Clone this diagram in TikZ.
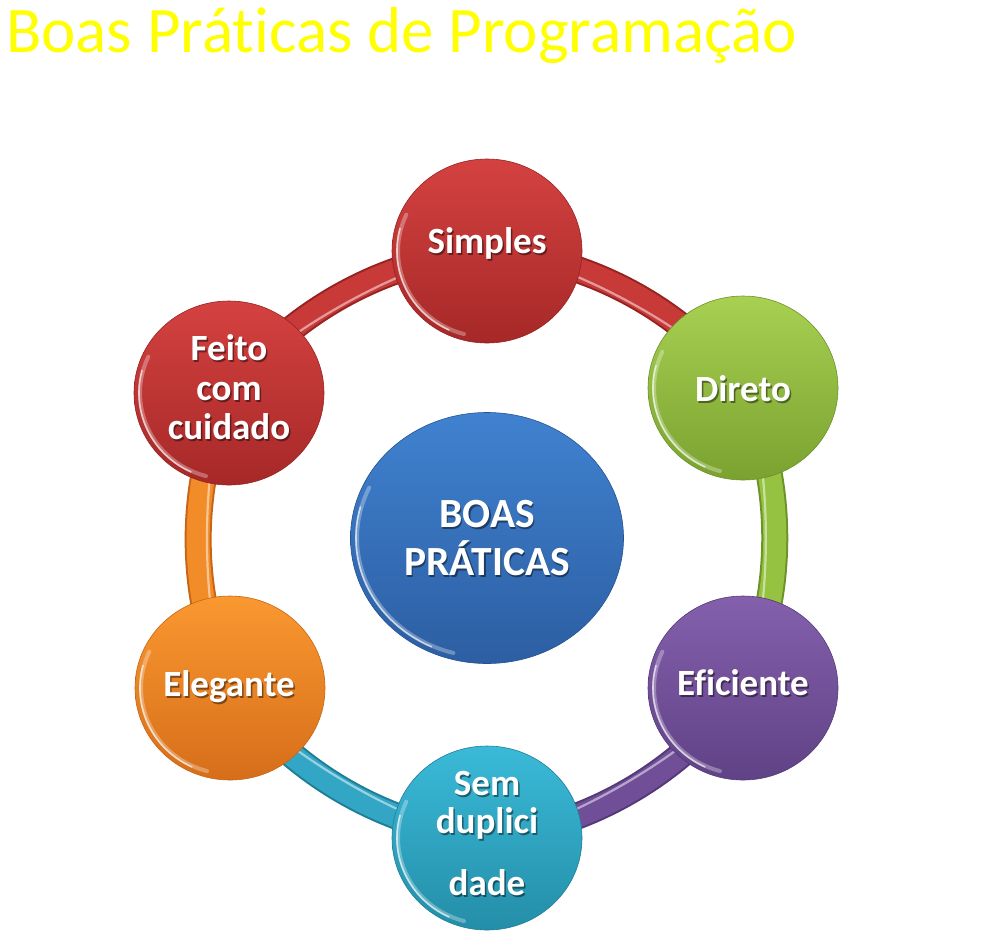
\documentclass[tikz,border=0pt]{standalone}
\usepackage{fontspec}
\setmainfont{Carlito}[Ligatures=NoCommon]
\usetikzlibrary{shapes.geometric}
\pgfdeclarelayer{bg}
\pgfsetlayers{bg,main}
\definecolor{titleY}{RGB}{255,255,0}
\definecolor{redT}{RGB}{212,66,64}\definecolor{redB}{RGB}{166,40,40}\definecolor{redD}{RGB}{150,34,34}\definecolor{redM}{RGB}{200,58,56}
\definecolor{greenT}{RGB}{168,208,82}\definecolor{greenB}{RGB}{122,162,48}\definecolor{greenD}{RGB}{108,146,40}\definecolor{greenM}{RGB}{150,194,66}
\definecolor{purpleT}{RGB}{132,96,172}\definecolor{purpleB}{RGB}{96,66,134}\definecolor{purpleD}{RGB}{84,56,120}\definecolor{purpleM}{RGB}{112,78,152}
\definecolor{cyanT}{RGB}{58,186,216}\definecolor{cyanB}{RGB}{36,142,168}\definecolor{cyanD}{RGB}{30,126,150}\definecolor{cyanM}{RGB}{50,166,196}
\definecolor{orangeT}{RGB}{250,152,48}\definecolor{orangeB}{RGB}{214,110,26}\definecolor{orangeD}{RGB}{200,100,22}\definecolor{orangeM}{RGB}{242,140,40}
\definecolor{blueT}{RGB}{64,130,208}\definecolor{blueB}{RGB}{44,94,162}\definecolor{blueD}{RGB}{36,82,146}
\newcommand\shtxt[5]{%
  \node[#2, text=black, opacity=.45] (#1s) at (#3+1.5,#4+2) {#5};
  \node[#2, text=white] (#1) at (#3,#4) {#5};}
\newcommand\rim[3]{% node, rx, ry
  \draw[white, opacity=.30, line width=4pt, line cap=round] (#1.center) ++(105:#2-6 and #3-6) arc[start angle=105, end angle=205, x radius=#2-6, y radius=#3-6];
  \draw[white, opacity=.65, line width=1.6pt, line cap=round] (#1.center) ++(115:#2-5 and #3-5) arc[start angle=115, end angle=195, x radius=#2-5, y radius=#3-5];}
\begin{document}
\begin{tikzpicture}[x=1pt,y=-1pt,
  disc/.style={ellipse, inner sep=0pt, minimum width=190pt, minimum height=184pt,
     draw=#1D, line width=0.6pt, top color=#1T, bottom color=#1B},
  bigdisc/.style={ellipse, inner sep=0pt, minimum width=273pt, minimum height=251pt,
     draw=#1D, line width=0.6pt, top color=#1T, bottom color=#1B},
  lbl/.style={anchor=base, inner sep=0pt, font=\bfseries\fontsize{37pt}{37pt}\selectfont},
  big/.style={anchor=base, inner sep=0pt, font=\bfseries\fontsize{41.5pt}{41.5pt}\selectfont},
  bandout/.style={line width=27pt, draw=#1D},
  bandin/.style={line width=23pt, draw=#1M},
  bandhl/.style={line width=2.2pt, draw=white, opacity=.5},
  link/.style={bend left=24, looseness=.89},
  linkhl/.style={bend left=24, looseness=.64}]
\useasboundingbox (0,0) rectangle (1008,946);

\node[anchor=base west, inner sep=0pt, text=titleY, font=\fontsize{65pt}{65pt}\selectfont] (title) at (6,52) {Boas Práticas de Programação};

% discs
\node[disc=red] (simples) at (487,251) {};
\node[disc=green] (direto) at (743,388) {};
\node[disc=purple] (eficiente) at (743,688) {};
\node[disc=cyan] (sem) at (487,838) {};
\node[disc=orange] (elegante) at (230,688) {};
\node[disc=red] (feito) at (229,393) {};
\node[bigdisc=blue] (boas) at (487,538) {};

\rim{simples}{95}{92}
\rim{direto}{95}{92}
\rim{eficiente}{95}{92}
\rim{sem}{95}{92}
\rim{elegante}{95}{92}
\rim{feito}{95}{92}
\rim{boas}{136}{125}

% background and ring segments
\begin{pgfonlayer}{bg}
\fill[white] (0,0) rectangle (1008,946);
\foreach \a/\b/\c in {simples/direto/red, direto/eficiente/green, eficiente/sem/purple,
                      sem/elegante/cyan, elegante/feito/orange, feito/simples/red}{
  \draw[bandout=\c] (\a.center) to[link] (\b.center);
  \draw[bandin=\c] (\a.center) to[link] (\b.center);
  \draw[bandhl] (\a.center) to[linkhl] (\b.center);
}
\end{pgfonlayer}

% labels
\shtxt{tsimples}{lbl}{487}{253}{Simples}
\shtxt{tdireto}{lbl}{743}{401}{Direto}
\shtxt{teficiente}{lbl}{743}{695}{Eficiente}
\shtxt{telegante}{lbl}{229}{696}{Elegante}
\shtxt{tfeitoa}{lbl}{229}{360}{Feito}
\shtxt{tfeitob}{lbl}{229}{400}{com}
\shtxt{tfeitoc}{lbl}{229}{439}{cuidado}
\shtxt{tsema}{lbl}{487}{795}{Sem}
\shtxt{tsemb}{lbl}{487}{833}{duplici}
\shtxt{tsemc}{lbl}{487}{895}{dade}
\shtxt{tboasa}{big}{487}{527}{BOAS}
\shtxt{tboasb}{big}{487}{575}{PRÁTICAS}
\end{tikzpicture}
\end{document}
